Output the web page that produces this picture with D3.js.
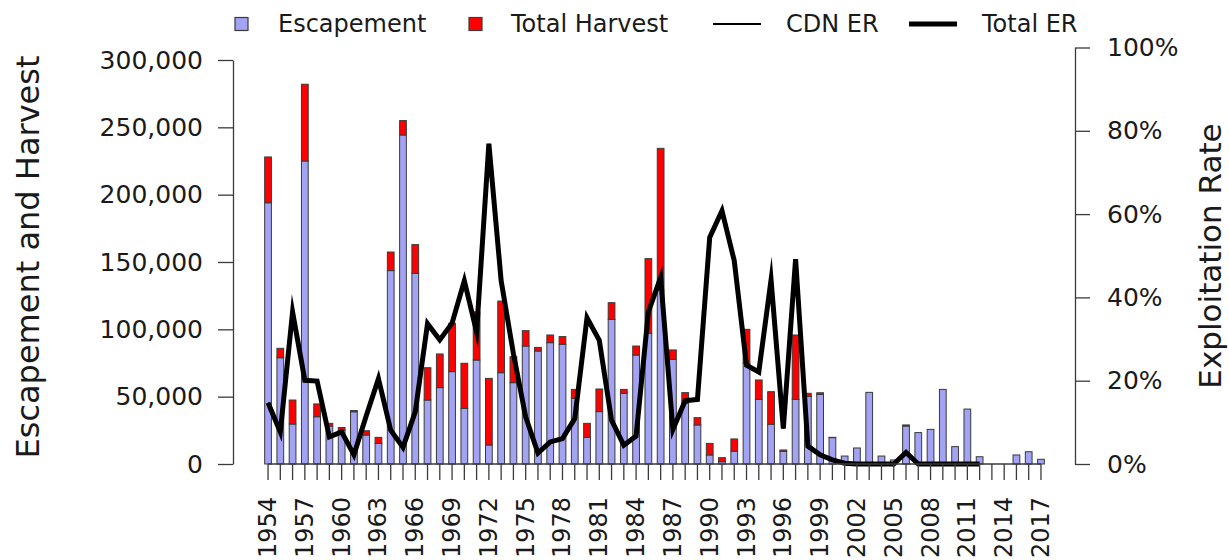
<!DOCTYPE html>
<html>
<head>
<meta charset="utf-8">
<script src="https://cdn.jsdelivr.net/npm/d3@7"></script>
<style>
  html, body { margin: 0; padding: 0; background: #fff; }
  svg text { font-family: "DejaVu Sans", sans-serif; fill: #1a1a1a; }
</style>
</head>
<body>
<svg id="chart" width="1229" height="560"></svg>
<script>
// Run years
const years = d3.range(1954, 2018);

// Spawning escapement (fish)
const escapement = [
  194000, 78900, 29700, 225000, 35100, 28200, 25000, 38800, 21500, 15300,
  143600, 244300, 141600, 47500, 56700, 68600, 41300, 77200, 14100, 67800,
  60400, 87600, 83900, 90100, 88900, 48800, 19800, 38900, 107400, 52500,
  80900, 97000, 129200, 77700, 45000, 29000, 6700, 1700, 9500, 74800,
  48000, 29500, 9500, 48000, 50200, 51700, 19600, 5900, 11900, 53200,
  5900, 3000, 28200, 23300, 25700, 55400, 12900, 40800, 5400, 0,
  0, 6700, 9100, 3500
];

// Total harvest (fish)
const harvest = [
  34000, 7000, 17800, 57000, 9500, 2000, 2100, 900, 3200, 4500,
  13800, 10700, 21300, 24000, 25000, 35900, 33500, 35800, 49500, 53200,
  19300, 11400, 2700, 5700, 5700, 6600, 10400, 16800, 12400, 2900,
  6700, 55500, 105200, 7000, 8000, 5400, 8600, 3000, 9100, 25200,
  14400, 24200, 900, 47800, 2300, 1200, 200, 0, 0, 0,
  0, 0, 800, 0, 0, 0, 0, 0, 0, 0,
  0, 0, 0, 0
];

// Total exploitation rate (%), reported through 2012
const totalER = [
  14.7, 7.7, 36.5, 20.1, 19.9, 6.5, 7.7, 2.2, 11.5, 20.5,
  8.1, 4.0, 12.5, 33.7, 29.8, 33.8, 44.0, 31.7, 76.9, 44.0,
  26.5, 11.3, 2.6, 5.3, 6.1, 10.9, 35.1, 29.7, 10.5, 4.5,
  6.7, 36.5, 44.8, 8.3, 15.2, 15.5, 54.4, 60.8, 48.8, 23.7,
  22.1, 44.2, 8.5, 49.2, 4.3, 2.2, 1.0, 0.2, 0, 0,
  0, 0, 2.8, 0, 0, 0, 0, 0, 0
];

// Canadian exploitation rate (%), reported through 2012
const cdnER = [
  14.7, 7.7, 36.5, 20.1, 19.9, 6.5, 7.7, 2.2, 11.5, 20.5,
  8.1, 4.0, 12.5, 33.7, 29.8, 33.8, 44.0, 31.7, 76.9, 44.0,
  26.5, 11.3, 2.6, 5.3, 6.1, 10.9, 35.1, 29.7, 10.5, 4.5,
  6.7, 36.5, 44.8, 8.3, 15.2, 15.5, 54.4, 60.8, 48.8, 23.7,
  22.1, 44.2, 8.5, 49.2, 4.3, 2.2, 1.0, 0.2, 0, 0,
  0, 0, 2.8, 0, 0, 0, 0, 0, 0
];

// Axis ticks
const countTicks = [0, 50000, 100000, 150000, 200000, 250000, 300000];
const rateTicks = [0, 20, 40, 60, 80, 100];
const labelledYears = d3.range(1954, 2018, 3);

// Legend entries
const legendItems = [
  { label: "Escapement", kind: "box", color: "#a3a3f3" },
  { label: "Total Harvest", kind: "box", color: "#ff0000" },
  { label: "CDN ER", kind: "line", width: 2 },
  { label: "Total ER", kind: "line", width: 5 }
];

const svg = d3.select("#chart");
const axisColor = "#3a3a3a";
const outline = "#3a3a3a";

const x = d3.scaleBand()
  .domain(years)
  .range([261.9, 1047.1])
  .paddingInner(0.45)
  .paddingOuter(0.225);
const cx = d => x(d) + x.bandwidth() / 2;

const yCount = d3.scaleLinear().domain([0, 300000]).range([464, 60]);
const yRate = d3.scaleLinear().domain([0, 100]).range([464, 47.5]);

const rows = years.map((yr, i) => ({
  year: yr,
  esc: escapement[i],
  har: harvest[i]
}));

// Stacked bars: escapement at the bottom, harvest on top
const bars = svg.append("g");
bars.selectAll("rect.esc")
  .data(rows.filter(d => d.esc > 0))
  .join("rect")
  .attr("class", "esc")
  .attr("x", d => x(d.year))
  .attr("width", x.bandwidth())
  .attr("y", d => yCount(d.esc))
  .attr("height", d => yCount(0) - yCount(d.esc))
  .attr("fill", legendItems[0].color)
  .attr("stroke", outline)
  .attr("stroke-width", 1);

bars.selectAll("rect.har")
  .data(rows.filter(d => d.har > 0))
  .join("rect")
  .attr("class", "har")
  .attr("x", d => x(d.year))
  .attr("width", x.bandwidth())
  .attr("y", d => yCount(d.esc + d.har))
  .attr("height", d => yCount(d.esc) - yCount(d.esc + d.har))
  .attr("fill", legendItems[1].color)
  .attr("stroke", outline)
  .attr("stroke-width", 1);

// Exploitation rate lines
const rateLine = d3.line()
  .x((d, i) => cx(years[i]))
  .y(d => yRate(d));

svg.append("path")
  .datum(totalER)
  .attr("d", rateLine)
  .attr("fill", "none")
  .attr("stroke", "#000")
  .attr("stroke-width", 5)
  .attr("stroke-linejoin", "miter")
  .attr("stroke-miterlimit", 10);

svg.append("path")
  .datum(cdnER)
  .attr("d", rateLine)
  .attr("fill", "none")
  .attr("stroke", "#000")
  .attr("stroke-width", 1.5);

// Left axis: counts
const leftAxis = svg.append("g")
  .attr("transform", "translate(233,0)")
  .call(d3.axisLeft(yCount)
    .tickValues(countTicks)
    .tickFormat(d3.format(","))
    .tickSize(15)
    .tickSizeOuter(0)
    .tickPadding(15));
leftAxis.selectAll("path, line").attr("stroke", axisColor).attr("stroke-width", 1.3);
leftAxis.selectAll("text").attr("font-size", 25).attr("font-family", "DejaVu Sans").attr("fill", "#1a1a1a");

// Right axis: exploitation rate
const rightAxis = svg.append("g")
  .attr("transform", "translate(1075,0)")
  .call(d3.axisRight(yRate)
    .tickValues(rateTicks)
    .tickFormat(d => d + "%")
    .tickSize(15)
    .tickSizeOuter(0)
    .tickPadding(17));
rightAxis.selectAll("path, line").attr("stroke", axisColor).attr("stroke-width", 1.3);
rightAxis.selectAll("text").attr("font-size", 25).attr("font-family", "DejaVu Sans").attr("fill", "#1a1a1a");

// Bottom axis: one tick per year, a label every third year
const bottomAxis = svg.append("g")
  .attr("transform", "translate(0,464)")
  .call(d3.axisBottom(x)
    .tickValues(years)
    .tickFormat(d => labelledYears.includes(d) ? String(d) : "")
    .tickSize(16)
    .tickSizeOuter(0));
bottomAxis.select("path.domain").remove();
bottomAxis.selectAll("line").attr("stroke", axisColor).attr("stroke-width", 1.3);
bottomAxis.selectAll("text")
  .attr("font-size", 24)
  .attr("font-family", "DejaVu Sans")
  .attr("fill", "#1a1a1a")
  .attr("text-anchor", "end")
  .attr("dy", null)
  .attr("dominant-baseline", "central")
  .attr("transform", "translate(0,33) rotate(-90)")
  .attr("x", 0)
  .attr("y", 0);
svg.append("line")
  .attr("x1", cx(years[0]))
  .attr("x2", cx(years[years.length - 1]))
  .attr("y1", yCount(0))
  .attr("y2", yCount(0))
  .attr("stroke", axisColor)
  .attr("stroke-width", 1.3);

// Axis titles
svg.append("text")
  .attr("transform", "translate(28,257) rotate(-90)")
  .attr("text-anchor", "middle")
  .attr("dominant-baseline", "central")
  .attr("font-size", 32)
  .text("Escapement and Harvest");

svg.append("text")
  .attr("transform", "translate(1210,256) rotate(-90)")
  .attr("text-anchor", "middle")
  .attr("dominant-baseline", "central")
  .attr("font-size", 31)
  .text("Exploitation Rate");

// Legend
const legendX = [235, 469, 713, 909];
const legendTextX = [278, 511, 786, 982];
const legend = svg.append("g");
legendItems.forEach((item, i) => {
  if (item.kind === "box") {
    legend.append("rect")
      .attr("x", legendX[i])
      .attr("y", 17.5)
      .attr("width", 13)
      .attr("height", 13)
      .attr("fill", item.color)
      .attr("stroke", outline)
      .attr("stroke-width", 1.2);
  } else {
    legend.append("line")
      .attr("x1", legendX[i])
      .attr("x2", legendX[i] + 48)
      .attr("y1", 24)
      .attr("y2", 24)
      .attr("stroke", "#000")
      .attr("stroke-width", item.width);
  }
  legend.append("text")
    .attr("x", legendTextX[i])
    .attr("y", 24)
    .attr("dominant-baseline", "central")
    .attr("font-size", 24)
    .text(item.label);
});
</script>
</body>
</html>
